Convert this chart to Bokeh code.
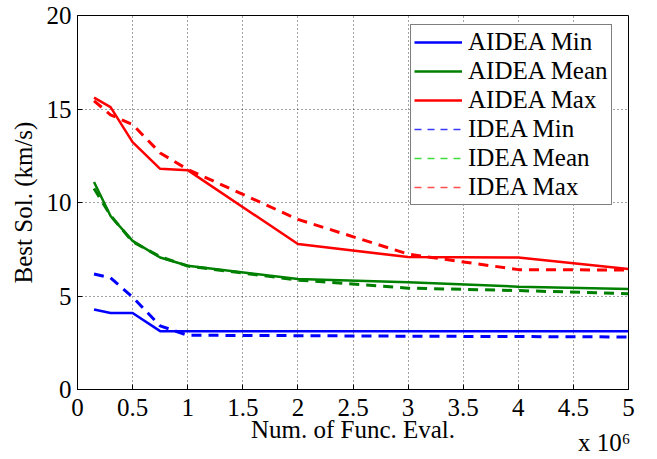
from bokeh.plotting import figure
from bokeh.models import (Range1d, FixedTicker, LinearAxis, Legend, LegendItem,
                          ColumnDataSource)
from bokeh.embed import file_html
from bokeh.resources import INLINE

# Number of function evaluations at which the best solutions were recorded
evals = [150000, 300000, 500000, 750000, 1000000, 2000000, 3000000, 4000000, 5000000]

# Best solution (km/s), AIDEA
aidea_min = [4.28, 4.09, 4.09, 3.12, 3.12, 3.12, 3.12, 3.12, 3.12]
aidea_mean = [11.1, 9.28, 7.95, 7.06, 6.62, 5.91, 5.73, 5.5, 5.38]
aidea_max = [15.61, 15.1, 13.23, 11.8, 11.73, 7.78, 7.08, 7.06, 6.45]

# Best solution (km/s), IDEA
idea_min = [6.18, 5.97, 4.94, 3.4, 2.9, 2.88, 2.85, 2.83, 2.81]
idea_mean = [10.75, 9.3, 7.9, 7.1, 6.6, 5.85, 5.42, 5.29, 5.12]
idea_max = [15.44, 14.69, 14.17, 12.65, 11.77, 9.1, 7.24, 6.41, 6.39]

x_ticks = [0, 500000, 1000000, 1500000, 2000000, 2500000, 3000000, 3500000,
           4000000, 4500000, 5000000]
x_tick_labels = ["0", "0.5", "1", "1.5", "2", "2.5", "3", "3.5", "4", "4.5", "5"]
y_ticks = [0, 5, 10, 15, 20]

# where the "x 10^6" scale factor sits under the x axis
factor_pos = 4780000
factor_text = "x 10\u2076"

FONT = "Liberation Serif"
FS = "25px"
BLUE, GREEN, RED = "#0000ff", "#008000", "#ff0000"
NAN = float("nan")

p = figure(width=657, height=459, output_backend="svg", toolbar_location=None,
           x_range=Range1d(0, 5000000), y_range=Range1d(0, 20),
           min_border_left=77, min_border_right=29, min_border_top=15,
           min_border_bottom=70)
p.background_fill_color = "white"
p.border_fill_color = "white"
p.outline_line_color = "black"
p.outline_line_width = 1

src = ColumnDataSource(dict(x=evals, amin=aidea_min, amean=aidea_mean, amax=aidea_max,
                            imin=idea_min, imean=idea_mean, imax=idea_max))

# IDEA curves (dashed)
p.line("x", "imin", source=src, line_color=BLUE, line_width=3, line_dash="10 7")
p.line("x", "imean", source=src, line_color=GREEN, line_width=3, line_dash="10 7")
p.line("x", "imax", source=src, line_color=RED, line_width=3, line_dash="10 7")

# AIDEA curves (solid)
r_amin = p.line("x", "amin", source=src, line_color=BLUE, line_width=2.5)
r_amean = p.line("x", "amean", source=src, line_color=GREEN, line_width=2.5)
r_amax = p.line("x", "amax", source=src, line_color=RED, line_width=2.5)

# thin dashed swatches for the IDEA legend entries (no visible data)
r_lmin = p.line(x=[NAN, NAN], y=[NAN, NAN], line_color="#3a3aff", line_width=1.5,
                line_dash="7 6")
r_lmean = p.line(x=[NAN, NAN], y=[NAN, NAN], line_color="#3ddd3d", line_width=1.5,
                 line_dash="7 6")
r_lmax = p.line(x=[NAN, NAN], y=[NAN, NAN], line_color="#ff5050", line_width=1.5,
                line_dash="7 6")

# axes
for ax in (p.xaxis[0], p.yaxis[0]):
    ax.major_label_text_font = FONT
    ax.major_label_text_font_size = FS
    ax.major_label_text_color = "black"
    ax.axis_label_text_font = FONT
    ax.axis_label_text_font_size = FS
    ax.axis_label_text_font_style = "normal"
    ax.axis_label_text_color = "black"
    ax.major_tick_in = 5
    ax.major_tick_out = 0
    ax.minor_tick_in = 0
    ax.minor_tick_out = 0
    ax.axis_line_color = "black"
    ax.major_tick_line_color = "black"

p.xaxis[0].ticker = FixedTicker(ticks=x_ticks)
p.xaxis[0].major_label_overrides = dict(zip(x_ticks, x_tick_labels))
p.xaxis[0].axis_label = "Num. of Func. Eval."
p.xaxis[0].major_label_standoff = 9
p.xaxis[0].axis_label_standoff = -3
p.yaxis[0].ticker = FixedTicker(ticks=y_ticks)
p.yaxis[0].axis_label = "Best Sol. (km/s)"
p.yaxis[0].major_label_standoff = 6
p.yaxis[0].axis_label_standoff = 7

# scale factor of the x axis, written under the right end of the axis
factor_axis = LinearAxis(ticker=FixedTicker(ticks=[factor_pos]),
                         major_label_overrides={factor_pos: factor_text},
                         major_label_text_font=FONT, major_label_text_font_size=FS,
                         major_label_text_color="black", major_label_standoff=-17,
                         axis_line_color=None, major_tick_line_color=None,
                         minor_tick_line_color=None, major_tick_in=0, major_tick_out=0,
                         minor_tick_in=0, minor_tick_out=0)
p.add_layout(factor_axis, "below")

# dotted grid
for g in (p.xgrid[0], p.ygrid[0]):
    g.grid_line_color = "#444444"
    g.grid_line_dash = "1 3"
    g.grid_line_width = 1
p.xgrid[0].ticker = FixedTicker(ticks=x_ticks)
p.ygrid[0].ticker = FixedTicker(ticks=y_ticks)

legend = Legend(items=[
    LegendItem(label="AIDEA Min", renderers=[r_amin]),
    LegendItem(label="AIDEA Mean", renderers=[r_amean]),
    LegendItem(label="AIDEA Max", renderers=[r_amax]),
    LegendItem(label="IDEA Min", renderers=[r_lmin]),
    LegendItem(label="IDEA Mean", renderers=[r_lmean]),
    LegendItem(label="IDEA Max", renderers=[r_lmax]),
], location=(333, 184))
legend.label_text_font = FONT
legend.label_text_font_size = FS
legend.label_text_color = "black"
legend.label_standoff = 6
legend.glyph_width = 48
legend.glyph_height = 20
legend.label_height = 20
legend.spacing = 1
legend.padding = 3
legend.margin = 0
legend.border_line_color = "black"
legend.border_line_width = 1
legend.background_fill_alpha = 1
p.add_layout(legend, "center")

open("out.html", "w").write(file_html(p, INLINE))
